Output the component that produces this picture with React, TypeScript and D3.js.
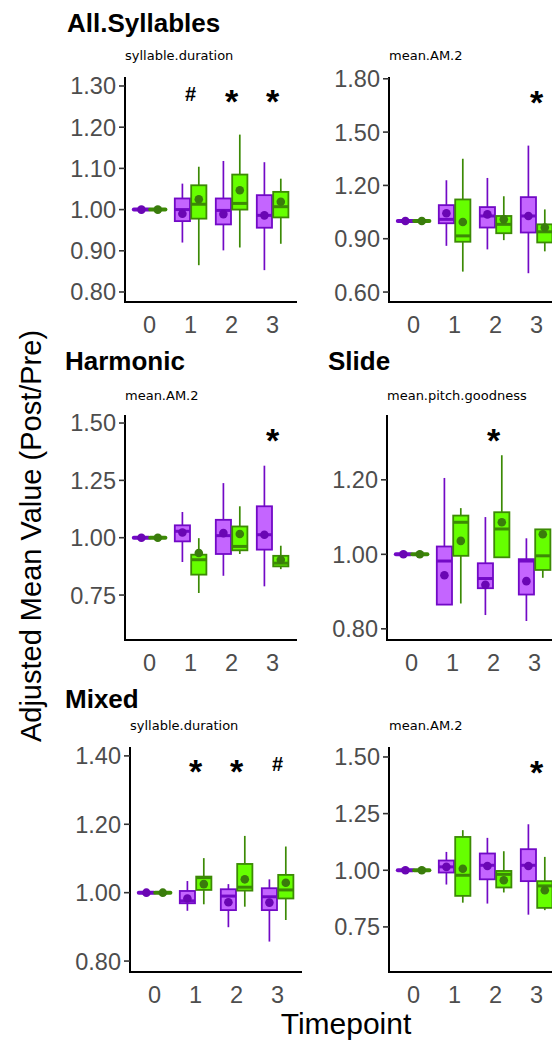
import React from "react";
import * as d3 from "d3";

// ---------- data ----------
const timepoints = ["0", "1", "2", "3"];
const groups = ["A", "B"];

// [timepoint, group, whiskerLow, q1, median, q3, whiskerHigh, mean]
type Box = [string, string, number, number, number, number, number, number];

const allSylDuration: Box[] = [
  ["0", "A", 1, 1, 1, 1, 1, 1],
  ["0", "B", 1, 1, 1, 1, 1, 1],
  ["1", "A", 0.92, 0.972, 1.0, 1.027, 1.063, 0.99],
  ["1", "B", 0.865, 0.978, 1.013, 1.059, 1.104, 1.025],
  ["2", "A", 0.901, 0.964, 0.998, 1.027, 1.118, 0.989],
  ["2", "B", 0.908, 1.0, 1.015, 1.085, 1.182, 1.047],
  ["3", "A", 0.853, 0.956, 0.986, 1.035, 1.115, 0.986],
  ["3", "B", 0.917, 0.981, 1.007, 1.043, 1.075, 1.019],
];
const allSylAM2: Box[] = [
  ["0", "A", 1, 1, 1, 1, 1, 1],
  ["0", "B", 1, 1, 1, 1, 1, 1],
  ["1", "A", 0.86, 0.987, 1.009, 1.089, 1.229, 1.043],
  ["1", "B", 0.715, 0.883, 0.916, 1.121, 1.35, 0.994],
  ["2", "A", 0.84, 0.963, 1.028, 1.078, 1.242, 1.037],
  ["2", "B", 0.892, 0.931, 0.981, 1.028, 1.139, 1.009],
  ["3", "A", 0.706, 0.935, 1.028, 1.134, 1.424, 1.028],
  ["3", "B", 0.829, 0.879, 0.939, 0.981, 1.065, 0.963],
];
const harmonicAM2: Box[] = [
  ["0", "A", 1, 1, 1, 1, 1, 1],
  ["0", "B", 1, 1, 1, 1, 1, 1],
  ["1", "A", 0.894, 0.984, 1.028, 1.054, 1.112, 1.023],
  ["1", "B", 0.759, 0.839, 0.904, 0.926, 0.998, 0.933],
  ["2", "A", 0.834, 0.929, 1.009, 1.078, 1.238, 1.02],
  ["2", "B", 0.929, 0.945, 0.962, 1.049, 1.137, 1.016],
  ["3", "A", 0.788, 0.948, 1.013, 1.137, 1.314, 1.013],
  ["3", "B", 0.863, 0.875, 0.889, 0.921, 0.965, 0.904],
];
const slidePitchGoodness: Box[] = [
  ["0", "A", 1, 1, 1, 1, 1, 1],
  ["0", "B", 1, 1, 1, 1, 1, 1],
  ["1", "A", 0.864, 0.865, 0.982, 1.021, 1.205, 0.944],
  ["1", "B", 0.868, 0.996, 1.086, 1.104, 1.124, 1.036],
  ["2", "A", 0.837, 0.909, 0.935, 0.976, 1.1, 0.918],
  ["2", "B", 0.992, 0.992, 1.068, 1.113, 1.266, 1.086],
  ["3", "A", 0.821, 0.892, 0.982, 0.987, 1.043, 0.928],
  ["3", "B", 0.937, 0.958, 0.996, 1.067, 1.067, 1.054],
];
const mixedDuration: Box[] = [
  ["0", "A", 1, 1, 1, 1, 1, 1],
  ["0", "B", 1, 1, 1, 1, 1, 1],
  ["1", "A", 0.947, 0.969, 0.976, 1.005, 1.034, 0.983],
  ["1", "B", 0.966, 1.008, 1.044, 1.047, 1.101, 1.025],
  ["2", "A", 0.899, 0.949, 0.99, 1.01, 1.025, 0.972],
  ["2", "B", 0.959, 1.006, 1.016, 1.084, 1.166, 1.039],
  ["3", "A", 0.857, 0.949, 0.988, 1.013, 1.039, 0.971],
  ["3", "B", 0.92, 0.983, 1.008, 1.052, 1.135, 1.029],
];
const mixedAM2: Box[] = [
  ["0", "A", 1, 1, 1, 1, 1, 1],
  ["0", "B", 1, 1, 1, 1, 1, 1],
  ["1", "A", 0.937, 0.99, 1.015, 1.043, 1.081, 1.015],
  ["1", "B", 0.857, 0.887, 0.978, 1.147, 1.177, 1.007],
  ["2", "A", 0.853, 0.96, 1.022, 1.074, 1.143, 1.019],
  ["2", "B", 0.902, 0.924, 0.982, 0.997, 1.084, 0.956],
  ["3", "A", 0.804, 0.952, 1.022, 1.093, 1.203, 1.019],
  ["3", "B", 0.824, 0.834, 0.931, 0.952, 1.059, 0.912],
];

const ticksAllSylDuration = [0.8, 0.9, 1.0, 1.1, 1.2, 1.3];
const ticksAllSylAM2 = [0.6, 0.9, 1.2, 1.5, 1.8];
const ticksHarmonic = [0.75, 1.0, 1.25, 1.5];
const ticksSlide = [0.8, 1.0, 1.2];
const ticksMixedDuration = [0.8, 1.0, 1.2, 1.4];
const ticksMixedAM2 = [0.75, 1.0, 1.25, 1.5];

const sigAllSylDuration = [["1", "#"], ["2", "*"], ["3", "*"]];
const sigAllSylAM2 = [["3", "*"]];
const sigHarmonic = [["3", "*"]];
const sigSlide = [["2", "*"]];
const sigMixedDuration = [["1", "*"], ["2", "*"], ["3", "#"]];
const sigMixedAM2 = [["3", "*"]];

// ---------- layout ----------
const panels = [
  { title: "All.Syllables", sub: "syllable.duration", data: allSylDuration, ticks: ticksAllSylDuration, sig: sigAllSylDuration,
    x0: 125, top: 77, bottom: 302, domain: [0.7757, 1.3218], sigY: 94, tx: 67, ty: 32, sy: 60 },
  { title: "", sub: "mean.AM.2", data: allSylAM2, ticks: ticksAllSylAM2, sig: sigAllSylAM2,
    x0: 389, top: 77, bottom: 302, domain: [0.544, 1.81], sigY: 95, tx: 328, ty: 32, sy: 60 },
  { title: "Harmonic", sub: "mean.AM.2", data: harmonicAM2, ticks: ticksHarmonic, sig: sigHarmonic,
    x0: 125, top: 415, bottom: 640, domain: [0.554, 1.535], sigY: 433, tx: 65, ty: 370, sy: 400 },
  { title: "Slide", sub: "mean.pitch.goodness", data: slidePitchGoodness, ticks: ticksSlide, sig: sigSlide,
    x0: 387, top: 415, bottom: 640, domain: [0.77, 1.374], sigY: 433, tx: 328, ty: 370, sy: 400 },
  { title: "Mixed", sub: "syllable.duration", data: mixedDuration, ticks: ticksMixedDuration, sig: sigMixedDuration,
    x0: 130, top: 747, bottom: 972, domain: [0.768, 1.426], sigY: 764, tx: 65, ty: 708, sy: 730 },
  { title: "", sub: "mean.AM.2", data: mixedAM2, ticks: ticksMixedAM2, sig: sigMixedAM2,
    x0: 389, top: 747, bottom: 972, domain: [0.551, 1.544], sigY: 765, tx: 328, ty: 708, sy: 730 },
];

const fills: Record<string, string> = { A: "#c465ff", B: "#66ff00" };
const strokes: Record<string, string> = { A: "#7209c6", B: "#3c8a05" };
const dots: Record<string, string> = { A: "#6a06b4", B: "#3a7c0c" };

const SANS = "'Liberation Sans', Arial, sans-serif";
const PANEL_W = 172;

function Panel({ p }: { p: (typeof panels)[number] }) {
  const x = d3.scalePoint<string>().domain(timepoints).range([p.x0 + 24.6, p.x0 + 24.6 + 123]);
  const dodge = d3.scaleBand<string>().domain(groups).range([-16.4, 16.4]);
  const y = d3.scaleLinear().domain(p.domain).range([p.bottom, p.top]);
  const bw = dodge.bandwidth();
  return (
    <g>
      {p.title && (
        <text x={p.tx} y={p.ty} fontFamily={SANS} fontWeight="bold" fontSize={26} fill="#000">
          {p.title}
        </text>
      )}
      <text x={p.x0} y={p.sy} fontFamily="'DejaVu Sans', Verdana, sans-serif" fontSize={13} fill="#000">
        {p.sub}
      </text>
      {/* boxes */}
      {p.data.map((b, i) => {
        const [tp, g, lo, q1, med, q3, hi, mean] = b;
        const left = (x(tp) as number) + (dodge(g) as number);
        const cx = left + bw / 2;
        const bx = left + 0.6;
        const w = bw - 1.2;
        const flat = q3 - q1 < 1e-6;
        return (
          <g key={i}>
            <line x1={cx} x2={cx} y1={y(hi)} y2={y(q3)} stroke={strokes[g]} strokeWidth={1.7} />
            <line x1={cx} x2={cx} y1={y(q1)} y2={y(lo)} stroke={strokes[g]} strokeWidth={1.7} />
            <rect x={bx} width={w} y={y(q3)} height={Math.max(0, y(q1) - y(q3))}
              fill={fills[g]} stroke={strokes[g]} strokeWidth={1.8} />
            <line x1={bx} x2={bx + w} y1={y(med)} y2={y(med)} stroke={strokes[g]}
              strokeWidth={flat ? 4 : 3} strokeLinecap={flat ? "round" : "butt"} />
            <circle cx={cx} cy={y(mean)} r={4.3} fill={dots[g]} />
          </g>
        );
      })}
      {/* significance */}
      {p.sig.map(([tp, s], i) =>
        s === "*" ? (
          <text key={i} x={x(tp)} y={p.sigY + 19} textAnchor="middle" fontFamily={SANS} fontWeight="bold" fontSize={34} fill="#000">
            *
          </text>
        ) : (
          <text key={i} x={x(tp)} y={p.sigY + 7} textAnchor="middle" fontFamily={SANS} fontWeight="bold" fontSize={20} fill="#000">
            #
          </text>
        )
      )}
      {/* y axis */}
      <line x1={p.x0} x2={p.x0} y1={p.top} y2={p.bottom} stroke="#000" strokeWidth={2} />
      {p.ticks.map((t) => (
        <g key={t}>
          <line x1={p.x0 - 6} x2={p.x0} y1={y(t)} y2={y(t)} stroke="#333" strokeWidth={1.6} />
          <text x={p.x0 - 9} y={y(t)} dy="0.36em" textAnchor="end" fontFamily={SANS} fontSize={23.5} fill="#4d4d4d">
            {d3.format(".2f")(t)}
          </text>
        </g>
      ))}
      {/* x axis */}
      <line x1={p.x0 - 1} x2={p.x0 + PANEL_W} y1={p.bottom} y2={p.bottom} stroke="#000" strokeWidth={2} />
      {timepoints.map((t) => (
        <text key={t} x={x(t)} y={p.bottom + 31} textAnchor="middle" fontFamily={SANS} fontSize={23.5} fill="#4d4d4d">
          {t}
        </text>
      ))}
    </g>
  );
}

export default function App() {
  return (
    <svg width={552} height={1040} style={{ position: "absolute", left: 0, top: 0, background: "#fff" }}>
      <rect width={552} height={1040} fill="#fff" />
      {panels.map((p, i) => (
        <Panel key={i} p={p} />
      ))}
      <text transform="translate(41,536) rotate(-90)" textAnchor="middle" fontFamily={SANS} fontSize={29} fill="#000">
        Adjusted Mean Value (Post/Pre)
      </text>
      <text x={346} y={1034} textAnchor="middle" fontFamily={SANS} fontSize={30} fill="#000">
        Timepoint
      </text>
    </svg>
  );
}
